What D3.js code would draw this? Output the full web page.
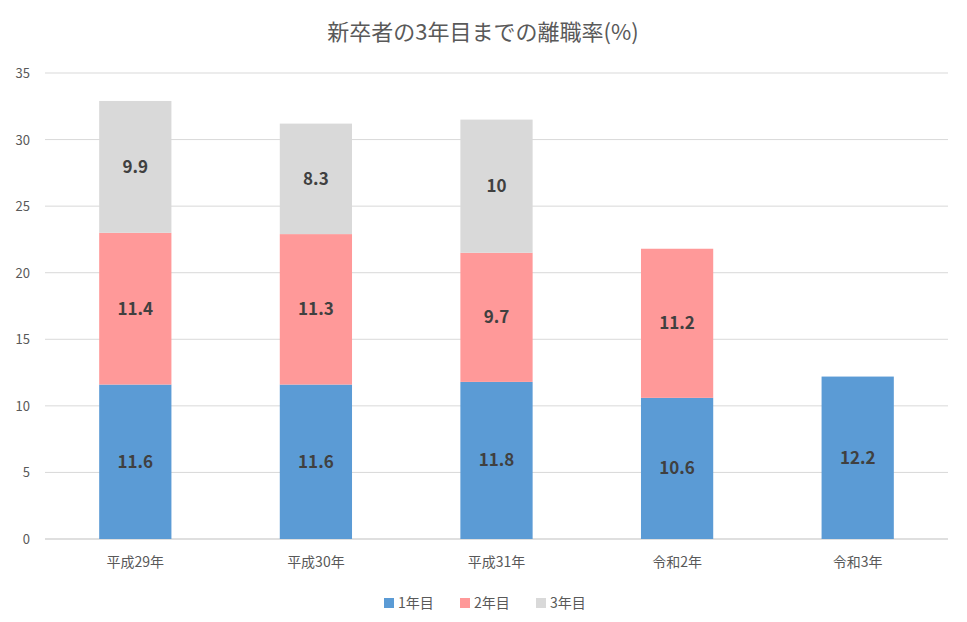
<!DOCTYPE html>
<html><head><meta charset="utf-8">
<script src="https://cdn.jsdelivr.net/npm/d3@7"></script>
<style>body{margin:0;background:#fff;font-family:"Noto Sans CJK JP","Noto Sans",sans-serif}</style>
</head><body><svg id="c" width="967" height="622"></svg>
<script>
const categories = ["平成29年","平成30年","平成31年","令和2年","令和3年"];
const seriesNames = ["1年目","2年目","3年目"];
const year1 = [11.6,11.6,11.8,10.6,12.2];
const year2 = [11.4,11.3,9.7,11.2,null];
const year3 = [9.9,8.3,10,null,null];
const yTicks = [0,5,10,15,20,25,30,35];
const colors = ["#5b9bd5","#ff9999","#d9d9d9"];

const svg = d3.select("#c");
const L=45,R=948,T=73,B=539;
const x = d3.scaleBand().domain(categories).range([L,R]).paddingInner(0.6).paddingOuter(0.3);
const y = d3.scaleLinear().domain([0,35]).range([B,T]);
const font = '"Noto Sans CJK JP",sans-serif';

svg.append("text").attr("x",483).attr("y",40).attr("text-anchor","middle")
  .attr("font-size",22).attr("fill","#595959").attr("font-family",font).text("新卒者の3年目までの離職率(%)");

svg.append("g").selectAll("line").data(yTicks).join("line")
  .attr("x1",L).attr("x2",R).attr("y1",d=>y(d)).attr("y2",d=>y(d))
  .attr("stroke",d=>d===0?"#bfbfbf":"#d9d9d9").attr("stroke-width",1);
svg.append("g").selectAll("text").data(yTicks).join("text")
  .attr("x",30).attr("y",d=>y(d)+5).attr("text-anchor","end")
  .attr("font-size",13).attr("fill","#595959").attr("font-family",font).text(d=>d);
svg.append("g").selectAll("text").data(categories).join("text")
  .attr("x",d=>x(d)+x.bandwidth()/2).attr("y",B+28).attr("text-anchor","middle")
  .attr("font-size",14).attr("fill","#595959").attr("font-family",font).text(d=>d);

const series=[year1,year2,year3];
categories.forEach((c,i)=>{
  let base=0;
  series.forEach((s,k)=>{
    const v=s[i]; if(v==null) return;
    svg.append("rect").attr("x",x(c)).attr("width",x.bandwidth())
      .attr("y",y(base+v)).attr("height",y(base)-y(base+v)).attr("fill",colors[k]);
    svg.append("text").attr("x",x(c)+x.bandwidth()/2).attr("y",y(base+v/2)+6)
      .attr("text-anchor","middle").attr("font-size",17).attr("font-weight","bold")
      .attr("fill","#404040").attr("font-family",font).text(v);
    base+=v;
  });
});

const lx=[384,460,536];
seriesNames.forEach((n,k)=>{
  svg.append("rect").attr("x",lx[k]).attr("y",598).attr("width",10).attr("height",10).attr("fill",colors[k]);
  svg.append("text").attr("x",lx[k]+14).attr("y",608).attr("font-size",14).attr("fill","#595959")
    .attr("font-family",font).text(n);
});
</script></body></html>
